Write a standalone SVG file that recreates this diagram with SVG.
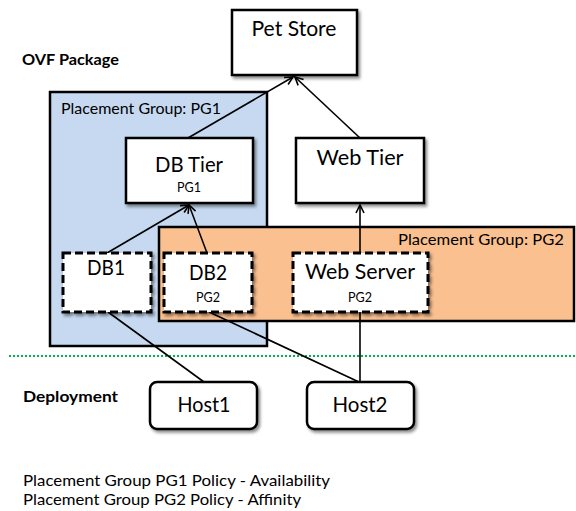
<svg xmlns="http://www.w3.org/2000/svg" width="576" height="511" viewBox="0 0 576 511">
<style>
text{font-family:"Lato","Liberation Sans",sans-serif;fill:#000}
.big{font-size:21px}
.sm{font-size:13px}
.lbl{font-size:16px}
.bold{font-size:16px;font-weight:bold}
.mid{text-anchor:middle}
.box{fill:#fff;stroke:#000;stroke-width:2.5}
.dash{fill:#fff;stroke:#000;stroke-width:3;stroke-dasharray:8 4}
.grp{stroke:#000;stroke-width:2.5}
.con{stroke:#000;stroke-width:1.6;fill:none}
</style>
<defs>
<filter id="sh" x="-10%" y="-10%" width="130%" height="140%">
<feDropShadow dx="2" dy="2.5" stdDeviation="1.5" flood-color="#000" flood-opacity="0.45"/>
</filter>
<marker id="arr" viewBox="0 0 10 10" refX="9" refY="5" markerWidth="10" markerHeight="10" markerUnits="userSpaceOnUse" orient="auto">
<path d="M1,1 L9,5 L1,9" fill="none" stroke="#000" stroke-width="1.6"/>
</marker>
</defs>

<g id="labels">
<text class="bold" x="22" y="65" textLength="97" lengthAdjust="spacingAndGlyphs">OVF Package</text>
<text class="bold" x="23" y="402" textLength="95" lengthAdjust="spacingAndGlyphs">Deployment</text>
<text class="lbl" x="23" y="486" textLength="307" lengthAdjust="spacingAndGlyphs">Placement Group PG1 Policy - Availability</text>
<text class="lbl" x="23" y="505" textLength="278" lengthAdjust="spacingAndGlyphs">Placement Group PG2 Policy - Affinity</text>
</g>

<g id="pg1">
<rect class="grp" x="50" y="92" width="217" height="254" fill="#c6d9f0"/>
<text class="lbl" x="61" y="114" textLength="160" lengthAdjust="spacingAndGlyphs">Placement Group: PG1</text>
</g>
<g id="pg2">
<rect class="grp" x="159" y="227" width="415" height="94" fill="#fac090"/>
<text class="lbl" x="398" y="245" textLength="166" lengthAdjust="spacingAndGlyphs">Placement Group: PG2</text>
</g>

<line id="separator" x1="9" y1="356" x2="576" y2="356" stroke="#00b050" stroke-width="2" stroke-dasharray="2 2"/>

<g id="connectors">
<line class="con" x1="188" y1="138" x2="293" y2="77" marker-end="url(#arr)"/>
<line class="con" x1="360" y1="138" x2="295" y2="77" marker-end="url(#arr)"/>
<line class="con" x1="107" y1="253" x2="189" y2="205" marker-end="url(#arr)"/>
<line class="con" x1="207" y1="253" x2="189" y2="205" marker-end="url(#arr)"/>
<line class="con" x1="360" y1="253" x2="360" y2="205" marker-end="url(#arr)"/>
<line class="con" x1="108" y1="312" x2="204" y2="382"/>
<line class="con" x1="209" y1="312" x2="359" y2="382"/>
<line class="con" x1="360" y1="312" x2="360" y2="382"/>
</g>

<g id="petstore">
<rect class="box" filter="url(#sh)" x="232" y="10" width="125" height="65"/>
<text class="big mid" x="294" y="36" textLength="85" lengthAdjust="spacingAndGlyphs">Pet Store</text>
</g>
<g id="dbtier">
<rect class="box" filter="url(#sh)" x="126" y="138" width="127" height="65"/>
<text class="big mid" x="189" y="172" textLength="68" lengthAdjust="spacingAndGlyphs">DB Tier</text>
<text class="sm mid" x="189" y="192" textLength="24" lengthAdjust="spacingAndGlyphs">PG1</text>
</g>
<g id="webtier">
<rect class="box" filter="url(#sh)" x="296" y="138" width="128" height="65"/>
<text class="big mid" x="360" y="165" textLength="87" lengthAdjust="spacingAndGlyphs">Web Tier</text>
</g>
<g id="db1">
<rect class="dash" filter="url(#sh)" x="63" y="253" width="88" height="59"/>
<text class="big mid" x="106" y="275" textLength="38" lengthAdjust="spacingAndGlyphs">DB1</text>
</g>
<g id="db2">
<rect class="dash" filter="url(#sh)" x="164" y="253" width="88" height="59"/>
<text class="big mid" x="208" y="280" textLength="38" lengthAdjust="spacingAndGlyphs">DB2</text>
<text class="sm mid" x="208" y="302" textLength="24" lengthAdjust="spacingAndGlyphs">PG2</text>
</g>
<g id="webserver">
<rect class="dash" filter="url(#sh)" x="293" y="253" width="135" height="59"/>
<text class="big mid" x="360" y="279" textLength="110" lengthAdjust="spacingAndGlyphs">Web Server</text>
<text class="sm mid" x="360" y="302" textLength="24" lengthAdjust="spacingAndGlyphs">PG2</text>
</g>
<g id="host1">
<rect class="box" filter="url(#sh)" x="150" y="382" width="107" height="47" rx="7"/>
<text class="big mid" x="204" y="412" textLength="53" lengthAdjust="spacingAndGlyphs">Host1</text>
</g>
<g id="host2">
<rect class="box" filter="url(#sh)" x="307" y="382" width="107" height="47" rx="7"/>
<text class="big mid" x="360" y="412" textLength="55" lengthAdjust="spacingAndGlyphs">Host2</text>
</g>
</svg>
